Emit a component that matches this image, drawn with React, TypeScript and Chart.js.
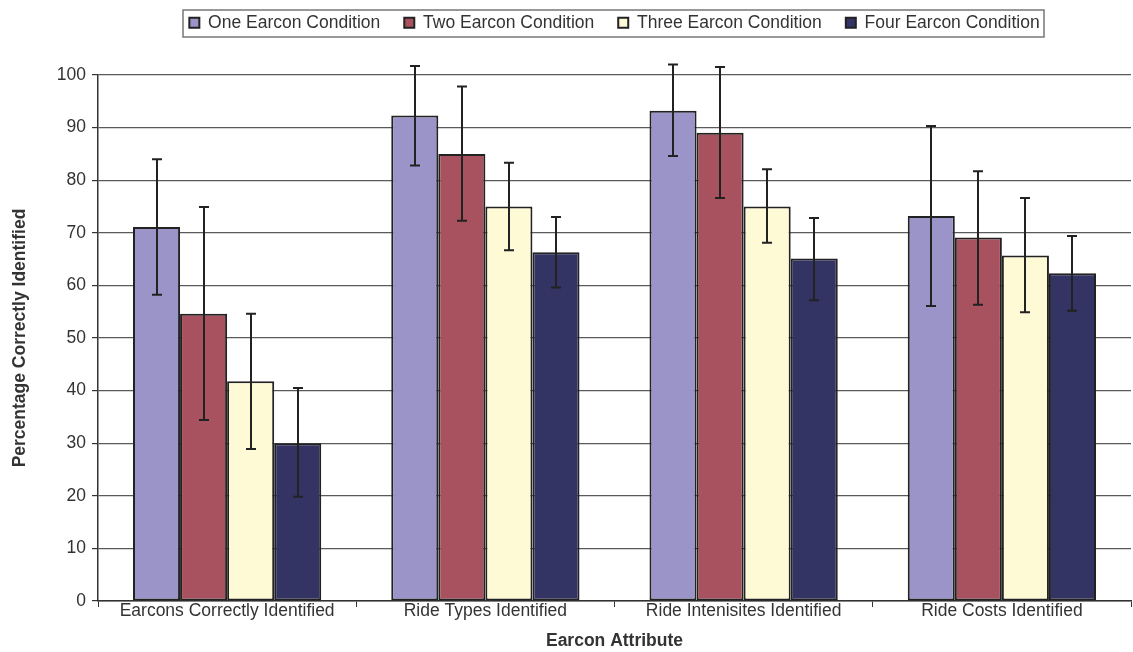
import React, { useEffect, useRef } from "react";
import { Chart, registerables } from "chart.js";

Chart.register(...registerables);

const categories = [
  "Earcons Correctly Identified",
  "Ride Types Identified",
  "Ride Intenisites Identified",
  "Ride Costs Identified",
];
const seriesNames = [
  "One Earcon Condition",
  "Two Earcon Condition",
  "Three Earcon Condition",
  "Four Earcon Condition",
];
const seriesColors = ["#9a94c8", "#a8525f", "#fffad6", "#333463"];

const oneValues = [71.1, 92.3, 93.2, 73.2];
const oneLow = [58.2, 82.8, 84.6, 56.1];
const oneHigh = [84.0, 101.7, 102.0, 90.3];

const twoValues = [54.6, 85.0, 89.0, 69.1];
const twoLow = [34.4, 72.3, 76.6, 56.3];
const twoHigh = [74.9, 97.8, 101.5, 81.7];

const threeValues = [41.8, 75.0, 75.0, 65.7];
const threeLow = [28.9, 66.7, 68.1, 54.9];
const threeHigh = [54.6, 83.3, 82.1, 76.6];

const fourValues = [30.0, 66.3, 65.1, 62.3];
const fourLow = [19.8, 59.6, 57.2, 55.2];
const fourHigh = [40.5, 73.0, 72.8, 69.4];

const yTicks = [0, 10, 20, 30, 40, 50, 60, 70, 80, 90, 100];

const values = [oneValues, twoValues, threeValues, fourValues];
const lows = [oneLow, twoLow, threeLow, fourLow];
const highs = [oneHigh, twoHigh, threeHigh, fourHigh];

const FONT = "'Liberation Sans', Arial, Helvetica, sans-serif";
const TEXT = "#333333";
const FS = 17.5;

const errorBarPlugin = {
  id: "errorBars",
  afterDatasetsDraw(chart: any) {
    const ctx = chart.ctx;
    const y = chart.scales.y;
    ctx.save();
    ctx.strokeStyle = "#222222";
    ctx.lineWidth = 2;
    chart.data.datasets.forEach((ds: any, i: number) => {
      const meta = chart.getDatasetMeta(i);
      meta.data.forEach((el: any, j: number) => {
        const x = Math.round(el.x);
        const yl = y.getPixelForValue(ds.errLow[j]);
        const yh = y.getPixelForValue(ds.errHigh[j]);
        ctx.beginPath();
        ctx.moveTo(x, yl);
        ctx.lineTo(x, yh);
        ctx.moveTo(x - 5, yl);
        ctx.lineTo(x + 5, yl);
        ctx.moveTo(x - 5, yh);
        ctx.lineTo(x + 5, yh);
        ctx.stroke();
      });
    });
    ctx.restore();
  },
};

const legendBoxPlugin = {
  id: "legendBox",
  beforeLayout(chart: any) {
    const lg = chart.legend;
    if (lg && !lg._patchedFit) {
      const orig = lg.fit.bind(lg);
      lg.fit = () => {
        orig();
        lg.height = 85;
      };
      lg._patchedFit = true;
    }
  },
  afterDraw(chart: any) {
    const boxes = chart.legend && chart.legend.legendHitBoxes;
    if (!boxes || !boxes.length) return;
    let minX = Infinity, maxX = -Infinity;
    boxes.forEach((b: any) => {
      minX = Math.min(minX, b.left);
      maxX = Math.max(maxX, b.left + b.width);
    });
    const ctx = chart.ctx;
    ctx.save();
    ctx.strokeStyle = "#777777";
    ctx.lineWidth = 1.5;
    ctx.strokeRect(Math.round(minX - 6), 10, Math.round(maxX - minX + 11), 27);
    ctx.restore();
  },
};

export default function App() {
  const canvasRef = useRef<HTMLCanvasElement | null>(null);

  useEffect(() => {
    if (!canvasRef.current) return;
    const chart = new Chart(canvasRef.current, {
      type: "bar",
      data: {
        labels: categories,
        datasets: seriesNames.map((name, i) => ({
          label: name,
          data: values[i],
          errLow: lows[i],
          errHigh: highs[i],
          backgroundColor: seriesColors[i],
          borderColor: "#222222",
          borderWidth: 2,
          borderSkipped: false,
          categoryPercentage: 0.729,
          barPercentage: 1,
        })) as any,
      },
      options: {
        animation: false,
        responsive: true,
        maintainAspectRatio: false,
        layout: { padding: { top: -10, right: 2, left: 0, bottom: 0 } },
        plugins: {
          legend: {
            position: "top",
            fullSize: false,
            labels: {
              boxWidth: 10,
              boxHeight: 10,
              padding: 24,
              color: TEXT,
              font: { family: FONT, size: FS },
            },
          },
          tooltip: { enabled: false },
        },
        scales: {
          x: {
            afterFit: (scale: any) => {
              scale.height = 51;
            },
            grid: {
              display: true,
              drawOnChartArea: false,
              drawTicks: true,
              tickLength: 6,
              tickColor: "#333333",
              offset: true,
            },
            border: { display: true, color: "#333333", width: 1.5 },
            ticks: {
              color: TEXT,
              font: { family: FONT, size: FS },
              padding: -6,
              maxRotation: 0,
              autoSkip: false,
            },
            title: {
              display: true,
              text: "Earcon Attribute",
              color: TEXT,
              font: { family: FONT, size: FS, weight: "bold" },
              padding: { top: 0, bottom: 0 },
            },
          },
          y: {
            min: 0,
            max: 100,
            afterFit: (scale: any) => {
              scale.width = 98;
            },
            afterBuildTicks: (scale: any) => {
              scale.ticks = yTicks.map((v) => ({ value: v }));
            },
            grid: {
              color: "#5a5a5a",
              lineWidth: 1.2,
              tickLength: 6,
              tickColor: "#333333",
            },
            border: { display: true, color: "#333333", width: 1.5 },
            ticks: {
              color: TEXT,
              font: { family: FONT, size: FS },
              padding: 6,
            },
            title: {
              display: true,
              text: "Percentage Correctly Identified",
              color: TEXT,
              font: { family: FONT, size: FS, weight: "bold" },
              padding: { top: 9.5, bottom: 0 },
            },
          },
        },
      },
      plugins: [errorBarPlugin, legendBoxPlugin],
    });
    return () => chart.destroy();
  }, []);

  return (
    <div style={{ position: "absolute", left: 0, top: 0, width: 1133, height: 652, background: "#fff" }}>
      <canvas ref={canvasRef} />
    </div>
  );
}
